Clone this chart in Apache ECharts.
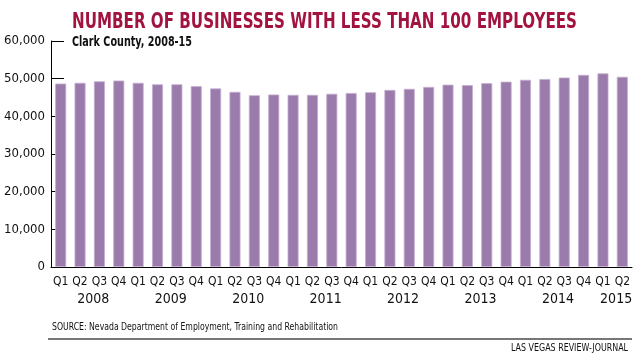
<!DOCTYPE html>
<html>
<head>
<meta charset="utf-8">
<script src="https://cdn.jsdelivr.net/npm/echarts@6/dist/echarts.min.js"></script>
<style>
  html, body { margin: 0; padding: 0; background: #fff; }
  #chart { width: 640px; height: 353px; }
</style>
</head>
<body>
<div id="chart"></div>
<script>
var FONT = '"Liberation Sans Narrow", "DejaVu Sans Condensed", "Roboto", sans-serif';

var quarters = ['Q1', 'Q2', 'Q3', 'Q4', 'Q1', 'Q2', 'Q3', 'Q4', 'Q1', 'Q2', 'Q3', 'Q4',
    'Q1', 'Q2', 'Q3', 'Q4', 'Q1', 'Q2', 'Q3', 'Q4', 'Q1', 'Q2', 'Q3', 'Q4',
    'Q1', 'Q2', 'Q3', 'Q4', 'Q1', 'Q2'];

var businesses = [48700, 48900, 49300, 49500, 48900, 48500, 48500, 48000,
    47400, 46500, 45600, 45800, 45700, 45700, 46000, 46200,
    46400, 47000, 47300, 47800, 48400, 48300, 48800, 49200,
    49700, 49900, 50300, 51000, 51400, 50500];

var years = ['2008', '2009', '2010', '2011', '2012', '2013', '2014', '2015'];
// boundary index (between quarters) where each year label sits
var yearSlots = [2, 6, 10, 14, 18, 22, 26, 29];

var yTicks = [0, 10000, 20000, 30000, 40000, 50000, 60000];

// 31 boundaries for the year axis
var yearAxisData = [];
for (var i = 0; i <= quarters.length; i++) yearAxisData.push('');
yearSlots.forEach(function (s, k) { yearAxisData[s] = years[k]; });

// squeeze text horizontally to a target width (no condensed font here)
var measureCtx = document.createElement('canvas').getContext('2d');
function squeeze(text, font, target) {
    measureCtx.font = font;
    var w = measureCtx.measureText(text).width;
    return Math.min(1, target / w);
}

function condensedText(text, x, y, size, weight, color, target, align) {
    var font = weight + ' ' + size + 'px ' + FONT;
    return {
        type: 'text',
        x: x,
        y: y,
        scaleX: squeeze(text, font, target),
        style: {
            text: text,
            font: font,
            fill: color,
            align: align || 'left',
            verticalAlign: 'middle'
        }
    };
}

var titleText = 'NUMBER OF BUSINESSES WITH LESS THAN 100 EMPLOYEES';
var subText = 'Clark County, 2008-15';
var sourceText = 'SOURCE: Nevada Department of Employment, Training and Rehabilitation';
var creditText = 'LAS VEGAS REVIEW-JOURNAL';

var myChart = echarts.init(document.getElementById('chart'));
myChart.setOption({
    animation: false,
    grid: {
        left: 51,
        right: 8,
        top: 41,
        bottom: 86
    },
    xAxis: [{
        type: 'category',
        data: quarters,
        axisLine: { lineStyle: { color: '#000', width: 1 } },
        axisTick: { inside: true, length: 4, lineStyle: { color: '#000' } },
        axisLabel: {
            interval: 0,
            margin: 9,
            fontFamily: FONT,
            fontSize: 12,
            color: '#111'
        }
    }, {
        type: 'category',
        data: yearAxisData,
        boundaryGap: false,
        position: 'bottom',
        axisLine: { show: false },
        axisTick: { show: false },
        axisLabel: {
            interval: 0,
            margin: 25,
            padding: [0, 0, 0, 7],
            fontFamily: FONT,
            fontSize: 14,
            color: '#111'
        }
    }],
    yAxis: {
        type: 'value',
        min: yTicks[0],
        max: yTicks[yTicks.length - 1],
        interval: 10000,
        splitLine: { show: false },
        axisLine: { show: true, lineStyle: { color: '#000', width: 1 } },
        axisTick: { show: true, inside: true, length: 13, lineStyle: { color: '#000' } },
        axisLabel: {
            margin: 6,
            fontFamily: FONT,
            fontSize: 13,
            color: '#111',
            formatter: function (v) {
                return v.toLocaleString('en-US');
            }
        }
    },
    series: [{
        type: 'bar',
        data: businesses,
        barWidth: 11,
        itemStyle: {
            color: '#9b7bab',
            borderColor: '#c4aed0',
            borderWidth: 0.8
        }
    }],
    graphic: [
        condensedText(titleText, 72, 23, 21, 'bold', '#a3133f', 505),
        condensedText(subText, 72, 42, 14, 'bold', '#111', 120),
        condensedText(sourceText, 52, 327, 11, 'normal', '#111', 286),
        {
            type: 'line',
            shape: { x1: 48, y1: 339, x2: 632, y2: 339 },
            style: { stroke: '#777', lineWidth: 2 }
        },
        condensedText(creditText, 628, 348, 11, 'normal', '#111', 117, 'right')
    ]
});
</script>
</body>
</html>
